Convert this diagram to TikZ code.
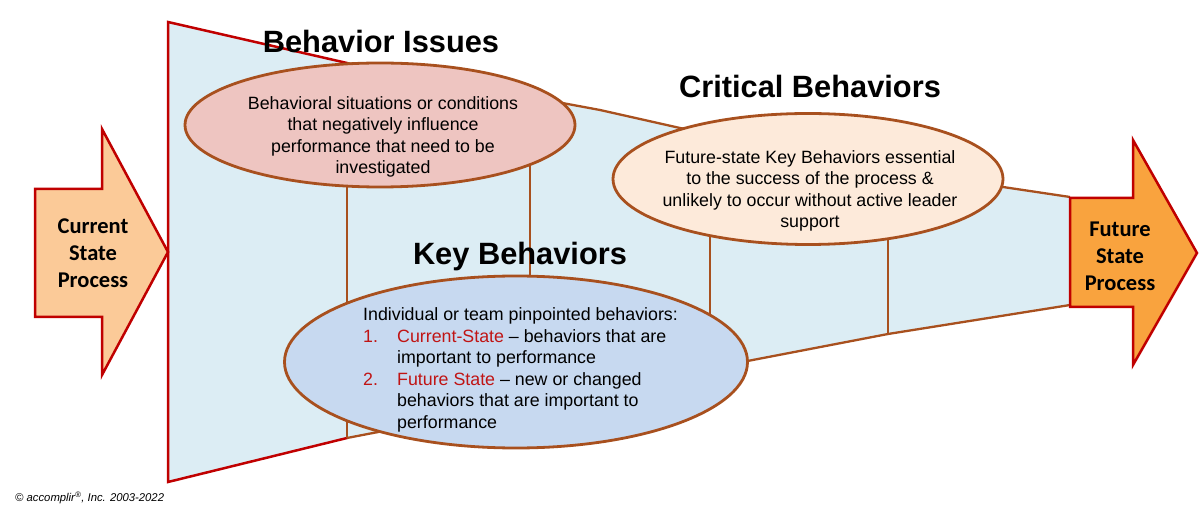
\documentclass[tikz,border=0pt]{standalone}
\usepackage{fontspec}
\setmainfont{Liberation Sans}
\newfontfamily\calib{Carlito}
\usetikzlibrary{shapes.geometric}
\definecolor{fred}{RGB}{192,0,0}
\definecolor{fbrown}{RGB}{168,80,30}
\definecolor{funnelfill}{RGB}{220,237,244}
\definecolor{pinkfill}{RGB}{238,197,193}
\definecolor{peachfill}{RGB}{253,234,218}
\definecolor{keyfill}{RGB}{199,217,240}
\definecolor{curfill}{RGB}{251,202,152}
\definecolor{futfill}{RGB}{249,163,62}
\definecolor{txtred}{RGB}{192,20,20}
\pgfdeclarelayer{background}
\pgfsetlayers{background,main}
\begin{document}
\begin{tikzpicture}[x=1pt,y=-1pt,
  oval/.style={ellipse,draw=fbrown,line width=2.8pt,inner sep=0pt},
  title/.style={font=\fontsize{30.8}{34}\selectfont\bfseries,anchor=base},
  body/.style={font=\fontsize{17.8}{21.5}\selectfont,align=center},
  arrowbox/.style={draw=fred,line width=2.5pt,line join=miter},
  arrowtext/.style={font=\calib\fontsize{22.5}{27}\selectfont\bfseries,align=center},
  link/.style={draw=fbrown,line width=2.3pt}]
\useasboundingbox (0,0) rectangle (1200,510);

% ellipses
\node[oval,fill=pinkfill,minimum width=390pt,minimum height=124pt] (bi) at (380,125) {};
\node[oval,fill=peachfill,minimum width=390pt,minimum height=131pt] (cb) at (808,179) {};
\node[oval,fill=keyfill,minimum width=463pt,minimum height=172pt] (kb) at (516,362) {};

% funnel points
\coordinate (f0) at (168,22);
\coordinate (f1) at (347,63);
\coordinate (f2) at (600,110);
\coordinate (f3) at (680,128);
\coordinate (f4) at (1003,187);
\coordinate (f5) at (1070,197);
\coordinate (g0) at (168,482);
\coordinate (fb1) at (347,438);
\coordinate (fb2) at (888,334);
\coordinate (g3) at (1070,305);

\begin{pgfonlayer}{background}
  \fill[funnelfill] (f0) -- (f1) -- (f2) -- (f3) -- (f4) -- (f5) -- (g3) -- (fb2) -- (fb1) -- (g0) -- cycle;
  \draw[link] (f1) -- (f2) -- (f3) -- (f4) -- (f5);
  \draw[link] (fb1) -- (fb2) -- (g3);
  \draw[draw=fred,line width=2.5pt] (f1) -- (f0) -- (g0) -- (fb1);
  \draw[link] ([xshift=-33pt]bi.center) -- (fb1);
  \draw[link] ([xshift=150pt]bi.center) -- ([xshift=14pt]kb.center);
  \draw[link] ([xshift=-98pt]cb.center) -- ([xshift=194pt]kb.center);
  \draw[link] ([xshift=80pt]cb.center) -- (fb2);
\end{pgfonlayer}

% texts in ellipses
\node[body] (bitxt) at (383,137) {Behavioral situations or conditions\\that negatively influence\\performance that need to be\\investigated};
\node[body] (cbtxt) at (810,191) {Future-state Key Behaviors essential\\to the success of the process \&\\unlikely to occur without active leader\\support};
\node[anchor=west,inner sep=0pt,font=\fontsize{17.8}{21.5}\selectfont,align=left] (kbtxt) at (363,370) {%
Individual or team pinpointed behaviors:\\
\makebox[34pt][l]{\color{txtred}1.}{\color{txtred}Current-State} – behaviors that are\\
\hspace*{34pt}important to performance\\
\makebox[34pt][l]{\color{txtred}2.}{\color{txtred}Future State} – new or changed\\
\hspace*{34pt}behaviors that are important to\\
\hspace*{34pt}performance};

% titles
\node[title] (t1) at (381,53) {Behavior Issues};
\node[title] (t2) at (810,98) {Critical Behaviors};
\node[title] (t3) at (520,265) {Key Behaviors};

% arrows
\draw[arrowbox,fill=curfill] (35,189) -- (102,189) -- (102,129) -- (168,252) -- (102,375) -- (102,317) -- (35,317) -- cycle;
\draw[arrowbox,fill=futfill] (1070,198) -- (1133,198) -- (1133,140) -- (1197,253) -- (1133,365) -- (1133,307) -- (1070,307) -- cycle;
\node[arrowtext] (cur) at (93,253) {Current\\State\\Process};
\node[arrowtext] (fut) at (1120,256) {Future\\State\\Process};

% copyright
\node[anchor=base west,inner sep=0pt,font=\fontsize{11.3}{13}\selectfont\itshape] (copy) at (15,501) {© accomplir\textsuperscript{®}, Inc. 2003-2022};
\end{tikzpicture}
\end{document}
